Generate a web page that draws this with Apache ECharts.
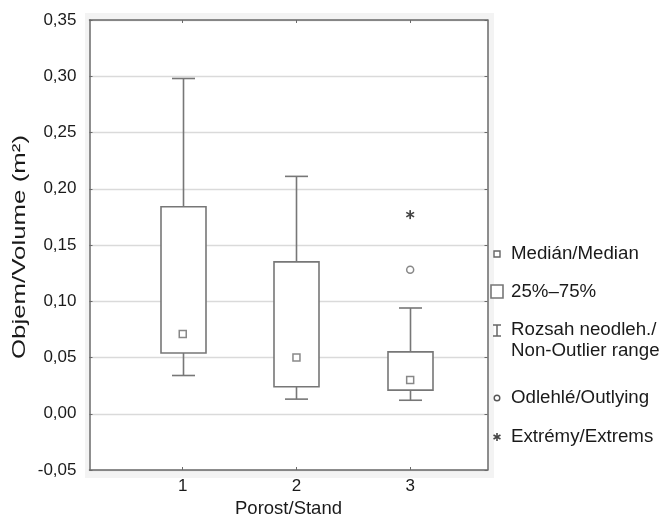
<!DOCTYPE html>
<html>
<head>
<meta charset="utf-8">
<script src="https://cdn.jsdelivr.net/npm/echarts@6/dist/echarts.min.js"></script>
<style>html,body{margin:0;padding:0;background:#fff;}#c{width:669px;height:521px;}</style>
</head>
<body>
<div id="c"></div>
<script>
const stands = [1, 2, 3];
const whiskerLow = [0.034, 0.013, 0.012];
const quart1 = [0.054, 0.024, 0.021];
const medians = [0.071, 0.050, 0.030];
const quart3 = [0.184, 0.135, 0.055];
const whiskerHigh = [0.298, 0.211, 0.094];
const outlierPoints = [[3, 0.128]];
const extremePoints = [[3, 0.177]];
const legendLabels = ['Medián/Median', '25%–75%', 'Rozsah neodleh./\nNon-Outlier range', 'Odlehlé/Outlying', 'Extrémy/Extrems'];
const xTitle = 'Porost/Stand';
const yTitle = 'Objem/Volume (m²)';

const FONT = '"Liberation Sans", Arial, sans-serif';
const BOXC = '#777777';
const AXC = '#6a6a6a';
const TXT = '#1a1a1a';

const boxData = stands.map((s, i) => [s, whiskerLow[i], quart1[i], medians[i], quart3[i], whiskerHigh[i]]);
const medianData = stands.map((s, i) => [s, medians[i]]);

function renderBox(params, api) {
  const x = api.value(0);
  const pLow = api.coord([x, api.value(1)]);
  const pQ1 = api.coord([x, api.value(2)]);
  const pQ3 = api.coord([x, api.value(4)]);
  const pHigh = api.coord([x, api.value(5)]);
  const cx = Math.round(pLow[0]) + 0.5;
  const bw = 45, cw = 23;
  const st = { stroke: BOXC, lineWidth: 1.6, fill: null };
  return {
    type: 'group',
    children: [
      { type: 'line', shape: { x1: cx, y1: pHigh[1], x2: cx, y2: pQ3[1] }, style: st },
      { type: 'line', shape: { x1: cx - cw / 2, y1: pHigh[1], x2: cx + cw / 2, y2: pHigh[1] }, style: st },
      { type: 'line', shape: { x1: cx, y1: pQ1[1], x2: cx, y2: pLow[1] }, style: st },
      { type: 'line', shape: { x1: cx - cw / 2, y1: pLow[1], x2: cx + cw / 2, y2: pLow[1] }, style: st },
      { type: 'rect', shape: { x: cx - bw / 2, y: pQ3[1], width: bw, height: pQ1[1] - pQ3[1] }, style: { stroke: BOXC, lineWidth: 1.6, fill: '#fff' } }
    ]
  };
}

function renderStar(params, api) {
  const p = api.coord([api.value(0), api.value(1)]);
  const r = 4.5;
  const children = [];
  for (let k = 0; k < 3; k++) {
    const a = Math.PI / 2 + k * Math.PI / 3;
    children.push({ type: 'line', shape: { x1: p[0] - r * Math.cos(a), y1: p[1] - r * Math.sin(a), x2: p[0] + r * Math.cos(a), y2: p[1] + r * Math.sin(a) }, style: { stroke: '#444', lineWidth: 1.7 } });
  }
  return { type: 'group', children };
}

const chart = echarts.init(document.getElementById('c'), null, { renderer: 'canvas' });

const lx = 497, ltx = 511, LF = '18.7px ' + FONT;
const legendGraphics = [
  { type: 'rect', z: 10, shape: { x: lx - 3, y: 251, width: 6, height: 6 }, style: { stroke: '#666', lineWidth: 1.4, fill: '#fff' } },
  { type: 'text', z: 10, style: { x: ltx, y: 254, text: legendLabels[0], font: LF, fill: TXT, verticalAlign: 'middle' } },
  { type: 'rect', z: 10, shape: { x: lx - 6, y: 285, width: 12, height: 13 }, style: { stroke: '#777', lineWidth: 1.6, fill: '#fff' } },
  { type: 'text', z: 10, style: { x: ltx, y: 292, text: legendLabels[1], font: LF, fill: TXT, verticalAlign: 'middle' } },
  { type: 'line', z: 10, shape: { x1: lx, y1: 325, x2: lx, y2: 336 }, style: { stroke: '#666', lineWidth: 1.5 } },
  { type: 'line', z: 10, shape: { x1: lx - 4, y1: 325, x2: lx + 4, y2: 325 }, style: { stroke: '#666', lineWidth: 1.5 } },
  { type: 'line', z: 10, shape: { x1: lx - 4, y1: 336, x2: lx + 4, y2: 336 }, style: { stroke: '#666', lineWidth: 1.5 } },
  { type: 'text', z: 10, style: { x: ltx, y: 340, text: legendLabels[2], font: LF, fill: TXT, verticalAlign: 'middle', lineHeight: 21 } },
  { type: 'circle', z: 10, shape: { cx: lx, cy: 398, r: 2.8 }, style: { stroke: '#555', lineWidth: 1.4, fill: '#fff' } },
  { type: 'text', z: 10, style: { x: ltx, y: 398, text: legendLabels[3], font: LF, fill: TXT, verticalAlign: 'middle' } },
  { type: 'text', z: 10, style: { x: ltx, y: 437, text: legendLabels[4], font: LF, fill: TXT, verticalAlign: 'middle' } },
  // stretched y axis title
  { type: 'text', z: 10, x: 20, y: 247, rotation: Math.PI / 2, scaleX: 1.36, scaleY: 1,
    style: { x: 0, y: 0, text: yTitle, font: '19px ' + FONT, fill: TXT, align: 'center', verticalAlign: 'middle' } }
];
for (let k = 0; k < 3; k++) {
  const a = Math.PI / 2 + k * Math.PI / 3, r = 4;
  legendGraphics.push({ type: 'line', z: 10, shape: { x1: lx - r * Math.cos(a), y1: 437 - r * Math.sin(a), x2: lx + r * Math.cos(a), y2: 437 + r * Math.sin(a) }, style: { stroke: '#444', lineWidth: 1.6 } });
}

const option = {
  backgroundColor: '#fff',
  animation: false,
  textStyle: { fontFamily: FONT },
  graphic: [
    { type: 'rect', z: -100, silent: true, shape: { x: 85, y: 13, width: 409, height: 465 }, style: { fill: '#f3f3f3' } }
  ].concat(legendGraphics),
  grid: { left: 89.5, right: 181.5, top: 20, bottom: 51, show: true, backgroundColor: '#fff', borderWidth: 0, containLabel: false, outerBoundsMode: 'none' },
  xAxis: [
    {
      type: 'value', min: 0.18, max: 3.68, position: 'bottom',
      axisLine: { show: true, onZero: false, lineStyle: { color: AXC, width: 1.5 } },
      axisTick: { show: true, inside: true, length: 3, customValues: stands, lineStyle: { color: AXC } },
      axisLabel: { customValues: stands, formatter: v => String(v), fontSize: 17, color: TXT, margin: 8 },
      splitLine: { show: false },
      name: xTitle, nameLocation: 'middle', nameGap: 28,
      nameTextStyle: { fontSize: 18.5, color: TXT }
    },
    {
      type: 'value', min: 0.18, max: 3.68, position: 'top',
      axisLine: { show: true, onZero: false, lineStyle: { color: AXC, width: 1.5 } },
      axisTick: { show: true, inside: true, length: 3, customValues: stands, lineStyle: { color: AXC } },
      axisLabel: { show: false },
      splitLine: { show: false }
    }
  ],
  yAxis: [
    {
      type: 'value', min: -0.05, max: 0.35, interval: 0.05, position: 'left',
      axisLine: { show: true, onZero: false, lineStyle: { color: AXC, width: 1.5 } },
      axisTick: { show: true, inside: true, length: 3, lineStyle: { color: AXC } },
      axisLabel: { formatter: v => v.toFixed(2).replace('.', ','), fontSize: 17, color: TXT, margin: 13 },
      splitLine: { show: true, lineStyle: { color: '#dadada', width: 1.3 } }
    },
    {
      type: 'value', min: -0.05, max: 0.35, interval: 0.05, position: 'right',
      axisLine: { show: true, onZero: false, lineStyle: { color: AXC, width: 1.5 } },
      axisTick: { show: true, inside: true, length: 3, lineStyle: { color: AXC } },
      axisLabel: { show: false },
      splitLine: { show: false }
    }
  ],
  series: [
    { type: 'custom', name: 'box', xAxisIndex: 0, yAxisIndex: 0, renderItem: renderBox, data: boxData, encode: { x: 0, y: [1, 2, 3, 4, 5] }, z: 3 },
    { type: 'scatter', name: 'median', data: medianData, symbol: 'rect', symbolSize: 7, itemStyle: { color: '#fff', borderColor: '#6a6a6a', borderWidth: 1.5 }, z: 5 },
    { type: 'scatter', name: 'outlier', data: outlierPoints, symbol: 'circle', symbolSize: 7, itemStyle: { color: '#fff', borderColor: '#6a6a6a', borderWidth: 1.5 }, z: 5 },
    { type: 'custom', name: 'extreme', renderItem: renderStar, data: extremePoints, encode: { x: 0, y: 1 }, z: 5 }
  ]
};
chart.setOption(option);
</script>
</body>
</html>
